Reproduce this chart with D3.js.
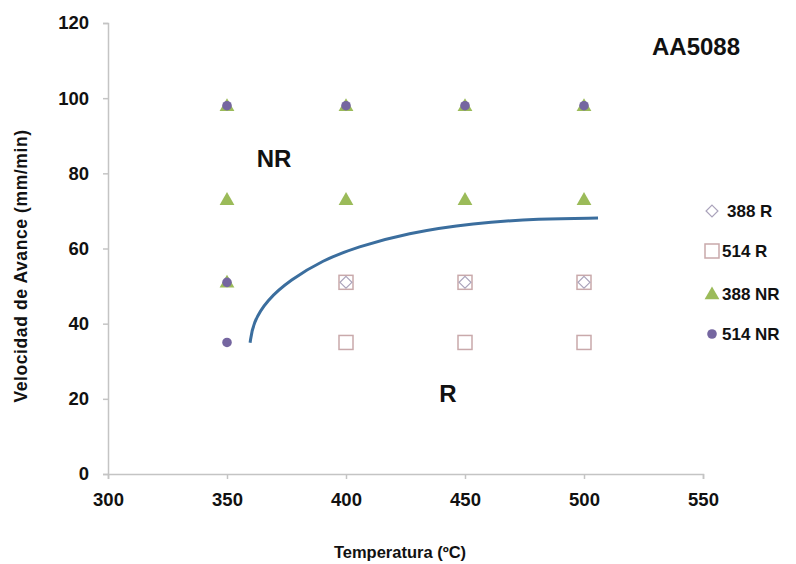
<!DOCTYPE html>
<html>
<head>
<meta charset="utf-8">
<script src="https://d3js.org/d3.v7.min.js"></script>
<style>
  body { margin: 0; background: #fff; }
  text { font-family: "Liberation Sans", Arial, sans-serif; font-weight: bold; fill: #111; }
</style>
</head>
<body>
<div id="vis"></div>
<script>
// frame and margins
const FRAME_WIDTH = 796;
const FRAME_HEIGHT = 564;
const MARGINS = {left: 108, right: 93, top: 23, bottom: 90};

// data
const TEMP_388R = [400, 450, 500];
const VEL_388R = [51, 51, 51];
const TEMP_514R = [400, 450, 500, 400, 450, 500];
const VEL_514R = [51, 51, 51, 35, 35, 35];
const TEMP_388NR = [350, 400, 450, 500, 350, 400, 450, 500, 350];
const VEL_388NR = [98, 98, 98, 98, 73, 73, 73, 73, 51];
const TEMP_514NR = [350, 400, 450, 500, 350, 350];
const VEL_514NR = [98, 98, 98, 98, 51, 35];
// boundary curve between R and NR
const CURVE_T = [359.7, 360.9, 366.8, 376.5, 390.3, 404.6, 425.6, 453.4, 481.5, 505.9];
const CURVE_V = [34.9, 40.2, 46.3, 51.6, 56.9, 60.4, 64.1, 66.8, 67.9, 68.1];
const X_TICKS = [300, 350, 400, 450, 500, 550];
const Y_TICKS = [0, 20, 40, 60, 80, 100, 120];
const LEGEND = ["388 R", "514 R", "388 NR", "514 NR"];

const VIS_WIDTH = FRAME_WIDTH - MARGINS.left - MARGINS.right;
const VIS_HEIGHT = FRAME_HEIGHT - MARGINS.top - MARGINS.bottom;

const svg = d3.select("#vis")
  .append("svg")
    .attr("width", FRAME_WIDTH)
    .attr("height", FRAME_HEIGHT);

const X = d3.scaleLinear().domain([300, 550]).range([0, VIS_WIDTH]);
const Y = d3.scaleLinear().domain([0, 120]).range([VIS_HEIGHT, 0]);

const g = svg.append("g")
  .attr("transform", "translate(" + MARGINS.left + "," + MARGINS.top + ")");

// axes
const xAxis = g.append("g")
  .attr("transform", "translate(0," + VIS_HEIGHT + ")")
  .call(d3.axisBottom(X).tickValues(X_TICKS).tickSize(5).tickPadding(14));
const yAxis = g.append("g")
  .call(d3.axisLeft(Y).tickValues(Y_TICKS).tickSize(5).tickPadding(14));
[xAxis, yAxis].forEach(a => {
  a.select(".domain").attr("stroke", "#c4c4c4").attr("stroke-width", 1.5);
  a.selectAll(".tick line").attr("stroke", "#c4c4c4").attr("stroke-width", 1.5);
  a.selectAll(".tick text").attr("font-size", 18.5).attr("fill", "#111")
    .style("font-family", "'Liberation Sans', Arial, sans-serif")
    .style("font-weight", "bold");
});

const pts = (ts, vs) => ts.map((t, i) => ({t: t, v: vs[i]}));

// 514 R squares
g.selectAll(".sq").data(pts(TEMP_514R, VEL_514R)).enter()
  .append("rect")
    .attr("x", d => X(d.t) - 7).attr("y", d => Y(d.v) - 7)
    .attr("width", 14).attr("height", 14)
    .attr("fill", "none").attr("stroke", "#c9a9ab").attr("stroke-width", 1.5);

// 388 R diamonds
const diamond = d3.symbol().type(d3.symbolDiamond2).size(90);
g.selectAll(".dm").data(pts(TEMP_388R, VEL_388R)).enter()
  .append("path")
    .attr("d", diamond)
    .attr("transform", d => "translate(" + X(d.t) + "," + Y(d.v) + ")")
    .attr("fill", "none").attr("stroke", "#aaa3bb").attr("stroke-width", 1.2);

// 388 NR triangles
const tri = d3.symbol().type(d3.symbolTriangle).size(95);
g.selectAll(".tr").data(pts(TEMP_388NR, VEL_388NR)).enter()
  .append("path")
    .attr("d", tri)
    .attr("transform", d => "translate(" + X(d.t) + "," + (Y(d.v) + 1) + ")")
    .attr("fill", "#9bbb59");

// 514 NR circles
g.selectAll(".ci").data(pts(TEMP_514NR, VEL_514NR)).enter()
  .append("circle")
    .attr("cx", d => X(d.t)).attr("cy", d => Y(d.v))
    .attr("r", 4.8)
    .attr("fill", "#7566a0");

// boundary curve
const line = d3.line().x(d => X(d.t)).y(d => Y(d.v)).curve(d3.curveBasis);
g.append("path")
  .datum(pts(CURVE_T, CURVE_V))
  .attr("d", line)
  .attr("fill", "none")
  .attr("stroke", "#3b6e9e")
  .attr("stroke-width", 3);

// region labels
svg.append("text").attr("x", 274).attr("y", 167).attr("text-anchor", "middle")
  .attr("font-size", 24).text("NR");
svg.append("text").attr("x", 448).attr("y", 402).attr("text-anchor", "middle")
  .attr("font-size", 24).text("R");
svg.append("text").attr("x", 696).attr("y", 55).attr("text-anchor", "middle")
  .attr("font-size", 24).text("AA5088");

// axis titles
svg.append("text").attr("x", 400).attr("y", 558).attr("text-anchor", "middle")
  .attr("font-size", 16.5).text("Temperatura (ºC)");
svg.append("text")
  .attr("transform", "translate(27,266) rotate(-90)")
  .attr("text-anchor", "middle").attr("font-size", 17.5)
  .attr("letter-spacing", 0.6)
  .text("Velocidad de Avance (mm/min)");

// legend
const LEG_Y = [211, 251, 294, 334];
const leg = svg.append("g");
LEGEND.forEach((name, i) => {
  const y = LEG_Y[i];
  if (i === 0) {
    leg.append("path").attr("d", diamond).attr("transform", "translate(712," + y + ")")
      .attr("fill", "none").attr("stroke", "#aaa3bb").attr("stroke-width", 1.2);
  } else if (i === 1) {
    leg.append("rect").attr("x", 705).attr("y", y - 7).attr("width", 14).attr("height", 14)
      .attr("fill", "none").attr("stroke", "#c9a9ab").attr("stroke-width", 1.5);
  } else if (i === 2) {
    leg.append("path").attr("d", tri).attr("transform", "translate(712," + (y + 1) + ")")
      .attr("fill", "#9bbb59");
  } else {
    leg.append("circle").attr("cx", 712).attr("cy", y).attr("r", 4.8).attr("fill", "#7566a0");
  }
  leg.append("text").attr("x", i === 0 ? 727 : 722).attr("y", y + 6)
    .attr("font-size", 17).text(name);
});
</script>
</body>
</html>
